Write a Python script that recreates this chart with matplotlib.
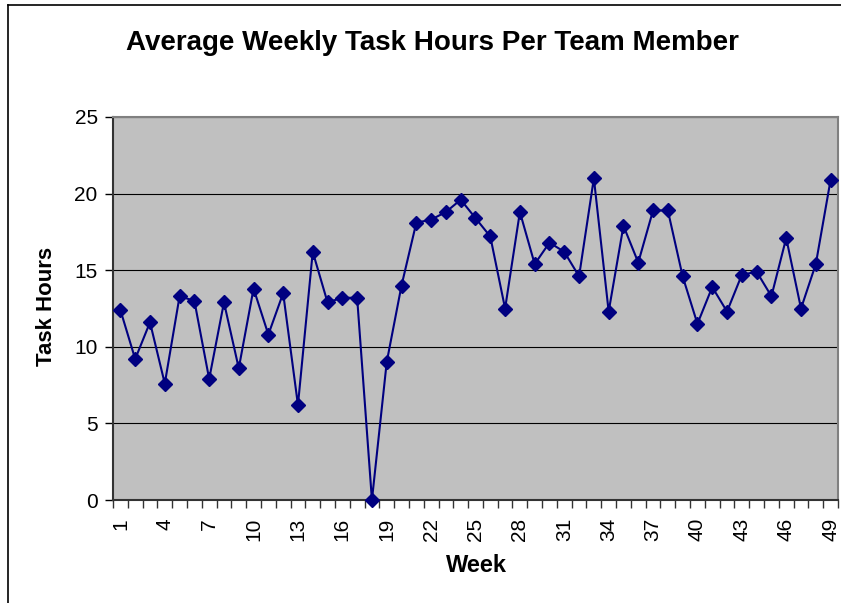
import matplotlib.pyplot as plt
import numpy as np
from matplotlib.lines import Line2D

plt.rcParams['font.family'] = ['Liberation Sans', 'DejaVu Sans']

weeks = list(range(1, 50))
hours = [12.4, 9.2, 11.6, 7.6, 13.3, 13.0, 7.9, 12.9, 8.6, 13.8,
         10.8, 13.5, 6.2, 16.2, 12.9, 13.2, 13.2, 0.0, 9.0, 14.0,
         18.1, 18.3, 18.8, 19.6, 18.4, 17.2, 12.5, 18.8, 15.4, 16.8,
         16.2, 14.6, 21.0, 12.3, 17.9, 15.5, 18.9, 18.9, 14.6, 11.5,
         13.9, 12.3, 14.7, 14.9, 13.3, 17.1, 12.5, 15.4, 20.9]
label_weeks = weeks[::3]

fig = plt.figure(figsize=(8.41, 6.03), dpi=100)
ax = fig.add_axes([113 / 841, 103 / 603, 725 / 841, 383 / 603])

# outer chart border (left and top visible)
fig.add_artist(Line2D([8 / 841, 8 / 841], [0, 1 - 5 / 603], color='black', lw=1.2))
fig.add_artist(Line2D([8 / 841, 1], [1 - 5 / 603, 1 - 5 / 603], color='black', lw=1.2))

ax.set_facecolor('#c0c0c0')
ax.plot(weeks, hours, color='#000080', lw=1.5, marker='D', markersize=7,
        markerfacecolor='#000080', markeredgecolor='#000080', clip_on=False, zorder=3)

ax.set_xlim(0.5, 49.5)
ax.set_ylim(0, 25)
ax.set_yticks([0, 5, 10, 15, 20, 25])
ax.yaxis.grid(True, color='black', lw=0.8)
ax.set_axisbelow(True)

ax.set_xticks(np.arange(0.5, 50, 1))
ax.set_xticklabels([])
ax.set_xticks(label_weeks, minor=True)
ax.set_xticklabels([str(w) for w in label_weeks], minor=True, rotation=90, va='top')
ax.tick_params(axis='x', which='major', direction='out', length=6, width=1, color='#333333')
ax.tick_params(axis='x', which='minor', length=0, labelsize=15, pad=13)
ax.tick_params(axis='y', direction='out', length=6, width=1, labelsize=15, pad=5)

for side in ['top', 'right']:
    ax.spines[side].set_color('#808080')
    ax.spines[side].set_linewidth(1.5)
for side in ['left', 'bottom']:
    ax.spines[side].set_color('#333333')
    ax.spines[side].set_linewidth(1.5)

ax.set_xlabel('Week', fontsize=17, fontweight='bold', va='center')
ax.xaxis.set_label_coords((476 - 113) / 725, -(565 - 500) / 383)
ax.set_ylabel('Task Hours', fontsize=16, fontweight='bold', va='center')
ax.yaxis.set_label_coords((47 - 113) / 725, (500 - 306) / 383)
fig.text(432 / 841, 1 - 43 / 603, 'Average Weekly Task Hours Per Team Member',
         ha='center', va='center', fontsize=20, fontweight='bold')

fig.savefig('out.png', dpi=100)
